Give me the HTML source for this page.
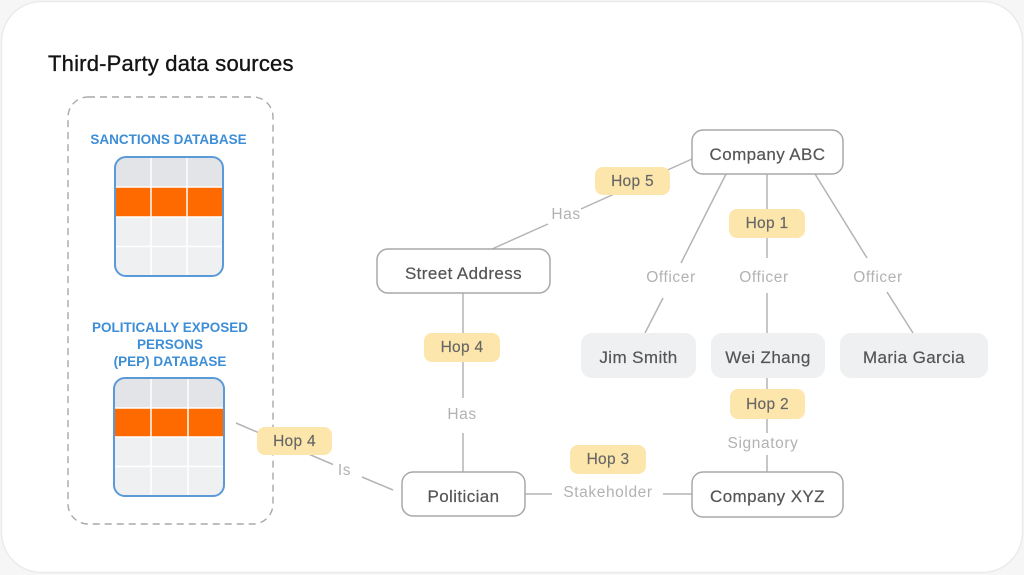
<!DOCTYPE html>
<html><head><meta charset="utf-8">
<style>
html,body{margin:0;padding:0;background:#f6f6f6;}
body{width:1024px;height:575px;overflow:hidden;position:relative;font-family:"Liberation Sans",Arial,sans-serif;}
svg{position:absolute;left:0;top:0;}
.node{font-size:17px;fill:#555;letter-spacing:0.4px;stroke:#555;stroke-width:0.2px;}
.hop{font-size:15.5px;fill:#666;letter-spacing:0.3px;stroke:#666;stroke-width:0.15px;}
.lbl{font-size:15.5px;fill:#b2b2b2;letter-spacing:0.6px;}
.db{font-size:13.5px;font-weight:bold;fill:#3d8ed6;}
</style></head><body>
<svg width="1024" height="575" viewBox="0 0 1024 575" xmlns="http://www.w3.org/2000/svg">
<defs>
<clipPath id="t1"><rect x="115" y="157" width="108" height="119" rx="11"/></clipPath>
<clipPath id="t2"><rect x="114" y="378" width="110" height="118" rx="11"/></clipPath>
</defs>
<rect x="1.5" y="1.5" width="1021" height="571" rx="40" fill="#ffffff" stroke="#ebebeb" stroke-width="1.5"/>

<text x="48" y="71" font-size="22" fill="#141414" stroke="#141414" stroke-width="0.35" letter-spacing="0.2">Third-Party data sources</text>

<rect x="68" y="97" width="205" height="427" rx="20" fill="none" stroke="#a9a9a9" stroke-width="1.4" stroke-dasharray="7 5"/>

<text class="db" x="168.5" y="144" text-anchor="middle">SANCTIONS DATABASE</text>
<g clip-path="url(#t1)">
<rect x="115" y="157" width="108" height="30" fill="#e2e4e7"/>
<rect x="115" y="187" width="108" height="30" fill="#ff6a00"/>
<rect x="115" y="217" width="108" height="59" fill="#eef0f2"/>
<g stroke="#ffffff" stroke-width="1.5">
<line x1="151" y1="157" x2="151" y2="276"/><line x1="187" y1="157" x2="187" y2="276"/>
<line x1="115" y1="187" x2="223" y2="187"/><line x1="115" y1="217" x2="223" y2="217"/><line x1="115" y1="246.5" x2="223" y2="246.5"/>
</g>
</g>
<rect x="115" y="157" width="108" height="119" rx="11" fill="none" stroke="#5a9ad8" stroke-width="2"/>

<text class="db" x="170" y="332" text-anchor="middle">POLITICALLY EXPOSED</text>
<text class="db" x="170" y="349" text-anchor="middle">PERSONS</text>
<text class="db" x="170" y="366" text-anchor="middle">(PEP) DATABASE</text>
<g clip-path="url(#t2)">
<rect x="114" y="378" width="110" height="30" fill="#e2e4e7"/>
<rect x="114" y="408" width="110" height="29" fill="#ff6a00"/>
<rect x="114" y="437" width="110" height="59" fill="#eef0f2"/>
<g stroke="#ffffff" stroke-width="1.5">
<line x1="151" y1="378" x2="151" y2="496"/><line x1="188" y1="378" x2="188" y2="496"/>
<line x1="114" y1="408" x2="224" y2="408"/><line x1="114" y1="437" x2="224" y2="437"/><line x1="114" y1="466.5" x2="224" y2="466.5"/>
</g>
</g>
<rect x="114" y="378" width="110" height="118" rx="11" fill="none" stroke="#5a9ad8" stroke-width="2"/>

<!-- connectors -->
<g stroke="#b4b4b4" stroke-width="1.5" fill="none">
<line x1="492" y1="249" x2="548" y2="224"/>
<line x1="581" y1="209" x2="692" y2="159"/>
<line x1="726" y1="174" x2="681" y2="263"/>
<line x1="663" y1="298" x2="645" y2="333"/>
<line x1="767" y1="174" x2="767" y2="258"/>
<line x1="767" y1="293" x2="767" y2="333"/>
<line x1="815" y1="174" x2="867" y2="258"/>
<line x1="887" y1="292" x2="913" y2="333"/>
<line x1="463" y1="293" x2="463" y2="398"/>
<line x1="463" y1="433" x2="463" y2="472"/>
<line x1="767" y1="378" x2="767" y2="433"/>
<line x1="767" y1="455" x2="767" y2="472"/>
<line x1="525" y1="494" x2="552" y2="494"/>
<line x1="663" y1="494" x2="692" y2="494"/>
<line x1="236" y1="423" x2="333" y2="464.5"/>
<line x1="362" y1="477" x2="393" y2="490"/>
</g>

<!-- nodes -->
<g fill="#ffffff" stroke="#a8a8a8" stroke-width="1.5">
<rect x="692" y="130" width="151" height="44" rx="11"/>
<rect x="377" y="249" width="173" height="44" rx="11"/>
<rect x="402" y="472" width="123" height="44" rx="11"/>
<rect x="692" y="472" width="151" height="45" rx="11"/>
</g>
<g fill="#eef0f2">
<rect x="581" y="333" width="115" height="45" rx="11"/>
<rect x="711" y="333" width="114" height="45" rx="11"/>
<rect x="840" y="333" width="148" height="45" rx="11"/>
</g>
<text class="node" x="767.5" y="160" text-anchor="middle">Company ABC</text>
<text class="node" x="463.5" y="279" text-anchor="middle">Street Address</text>
<text class="node" x="463.5" y="502" text-anchor="middle">Politician</text>
<text class="node" x="767.5" y="502" text-anchor="middle">Company XYZ</text>
<text class="node" x="638.5" y="363" text-anchor="middle">Jim Smith</text>
<text class="node" x="768" y="363" text-anchor="middle">Wei Zhang</text>
<text class="node" x="914" y="363" text-anchor="middle">Maria Garcia</text>

<!-- hop pills -->
<g fill="#fde6ab">
<rect x="595" y="167" width="75" height="28" rx="8"/>
<rect x="729" y="209" width="76" height="29" rx="8"/>
<rect x="424" y="333" width="76" height="29" rx="8"/>
<rect x="570" y="445" width="76" height="29" rx="8"/>
<rect x="730" y="389" width="75" height="30" rx="8"/>
<rect x="257" y="427" width="75" height="28" rx="8"/>
</g>
<text class="hop" x="632.5" y="186" text-anchor="middle">Hop 5</text>
<text class="hop" x="767" y="228" text-anchor="middle">Hop 1</text>
<text class="hop" x="462" y="352" text-anchor="middle">Hop 4</text>
<text class="hop" x="608" y="464" text-anchor="middle">Hop 3</text>
<text class="hop" x="767.5" y="409" text-anchor="middle">Hop 2</text>
<text class="hop" x="294.5" y="446" text-anchor="middle">Hop 4</text>

<!-- edge labels -->
<text class="lbl" x="566" y="219" text-anchor="middle">Has</text>
<text class="lbl" x="671" y="282" text-anchor="middle">Officer</text>
<text class="lbl" x="764" y="282" text-anchor="middle">Officer</text>
<text class="lbl" x="878" y="282" text-anchor="middle">Officer</text>
<text class="lbl" x="462" y="419" text-anchor="middle">Has</text>
<text class="lbl" x="608" y="497" text-anchor="middle">Stakeholder</text>
<text class="lbl" x="763" y="448" text-anchor="middle">Signatory</text>
<text class="lbl" x="344.5" y="475" text-anchor="middle">Is</text>
</svg>
</body></html>
